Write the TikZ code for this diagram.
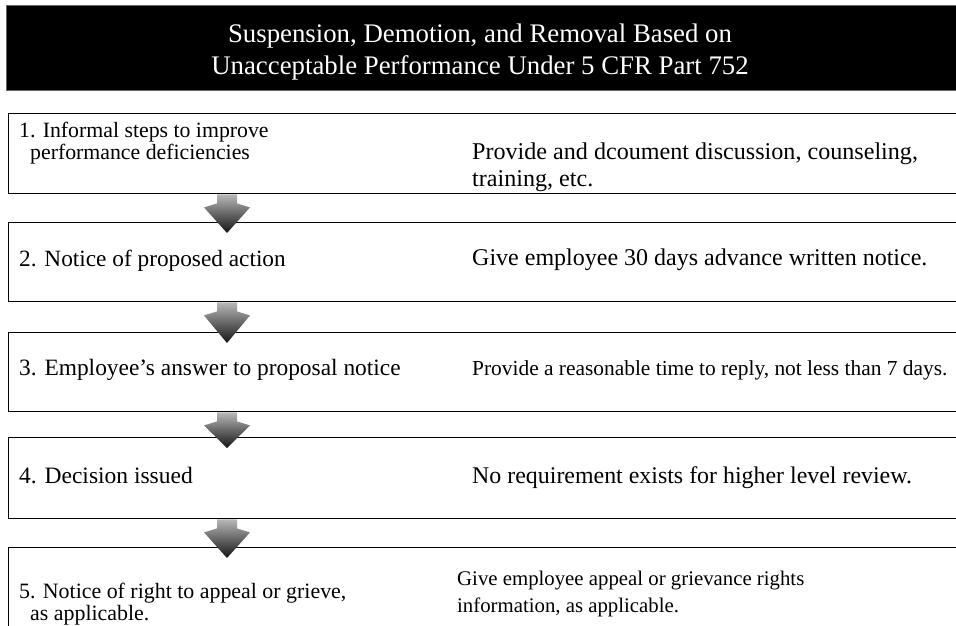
\documentclass[tikz,border=0pt]{standalone}
\usepackage{fontspec}
\setmainfont{Liberation Serif}
\usetikzlibrary{calc}
\begin{document}
\begin{tikzpicture}[x=1pt,y=-1pt,
  stepbox/.style={draw=black, line width=1.4pt, fill=white, minimum width=975pt,
    minimum height=#1, anchor=north west, inner sep=0pt},
  lt/.style={anchor=base west, inner sep=0pt, align=left,
    font=\fontsize{#1}{22}\selectfont},
  lt/.default=23.3,
  rt/.style={anchor=base west, inner sep=0pt, align=left,
    font=\fontsize{#1}{27}\selectfont},
  rt/.default=24,
  titletext/.style={text=white, align=center, inner sep=0pt,
    font=\fontsize{26.8}{32}\selectfont},
  flowarrow/.style={top color=black!28, bottom color=black!92, draw=none}
]
\useasboundingbox (0,0) rectangle (956,625);
\clip (0,0) rectangle (956,625);
\fill[white] (0,0) rectangle (956,625);

% title band
\node[fill=black, draw=black!60, line width=0.8pt, minimum width=975pt, minimum height=85pt,
  anchor=north west, inner sep=0pt] (title) at (6,5) {};
\node[titletext, anchor=base] (tt) at (480,74)
  {Suspension, Demotion, and Removal Based on\\Unacceptable Performance Under 5 CFR Part 752};

% boxes
\node[stepbox=80pt] (b1) at (8,113) {};
\node[stepbox=79pt] (b2) at (8,222) {};
\node[stepbox=79pt] (b3) at (8,332) {};
\node[stepbox=81pt] (b4) at (8,437) {};
\node[stepbox=100pt] (b5) at (8,547) {};

% arrows
\coordinate (ax) at (227,0);
\foreach \a/\b in {b1/b2,b2/b3,b3/b4,b4/b5}{
  \path let \p1=(\a.south -| ax), \p2=(\b.north -| ax) in
    [flowarrow] (\x1-10,\y1) -- (\x1+10,\y1) -- (\x1+10,\y1-9) -- (\x1+23,\y1-13)
      -- (\x1,\y2-11) -- (\x1-23,\y1-13) -- (\x1-10,\y1-9) -- cycle;
}

% texts
\node[lt=21.8] (l1) at (19,159) {1. Informal steps to improve\\\hspace*{11pt}performance deficiencies};
\node[rt=24.1] (r1) at (472,186) {Provide and dcoument discussion, counseling,\\training, etc.};
\node[lt=23.3] (l2) at (19,266) {2. Notice of proposed action};
\node[rt=24] (r2) at (472,265) {Give employee 30 days advance written notice.};
\node[lt=23.4] (l3) at (19,375) {3. Employee's answer to proposal notice};
\node[rt=21.4] (r3) at (472,375) {Provide a reasonable time to reply, not less than 7 days.};
\node[lt=23.5] (l4) at (19,483) {4. Decision issued};
\node[rt=23.9] (r4) at (472,483) {No requirement exists for higher level review.};
\node[lt=21.9] (l5) at (19,620) {5. Notice of right to appeal or grieve,\\\hspace*{11pt}as applicable.};
\node[rt=20.8] (r5) at (457,612) {Give employee appeal or grievance rights\\information, as applicable.};
\end{tikzpicture}
\end{document}
